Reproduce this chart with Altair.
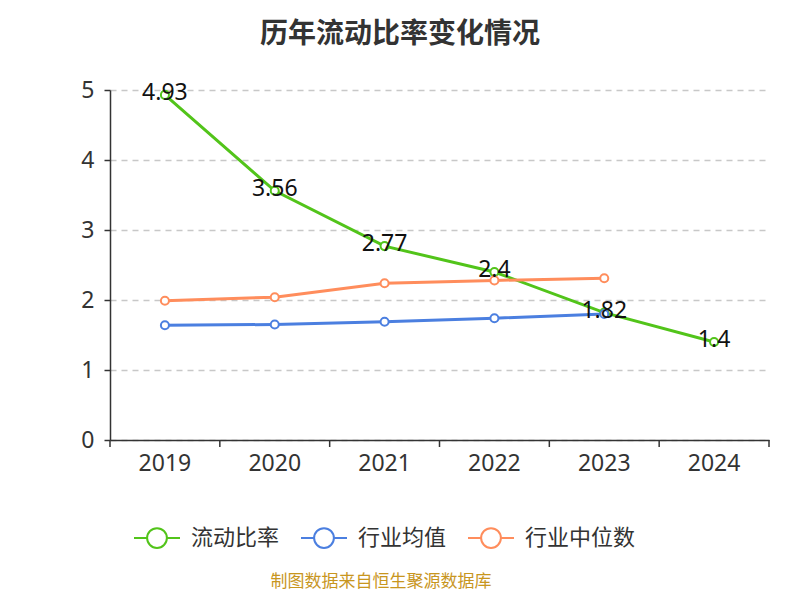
import altair as alt
import pandas as pd

years = ["2019", "2020", "2021", "2022", "2023", "2024"]
ratio = [4.93, 3.56, 2.77, 2.4, 1.82, 1.4]
ind_mean = [1.64, 1.65, 1.69, 1.74, 1.80]
ind_median = [1.99, 2.04, 2.24, 2.28, 2.31]
series = ["流动比率", "行业均值", "行业中位数"]
colors = ["#52c41a", "#4b7fe0", "#ff8d5c"]
title_text = "历年流动比率变化情况"
footer_text = "制图数据来自恒生聚源数据库"

rows = []
for name, vals in zip(series, [ratio, ind_mean, ind_median]):
    for y, v in zip(years, vals):
        rows.append({"year": y, "value": v, "series": name})
df = pd.DataFrame(rows)
df_ratio = df[df.series == "流动比率"]
df_years = pd.DataFrame({"year": years})

W, H = 659, 350
FONT = "Noto Sans CJK SC"
NUMFONT = "Noto Sans"

xs = alt.Scale(domain=years, paddingInner=0, paddingOuter=0)
ys = alt.Scale(domain=[0, 5], nice=False)
cs = alt.Scale(domain=series, range=colors)

sym = "M-1,0L-0.43,0M0.43,0L1,0M0.43,0A0.43,0.43,0,1,1,-0.43,0A0.43,0.43,0,1,1,0.43,0Z"

x_enc = alt.X("year:N", scale=xs, title=None,
              axis=alt.Axis(labelAngle=0, ticks=False, domain=True, domainColor="#333",
                            domainWidth=1.5, labelFontSize=23, labelColor="#333",
                            labelPadding=12, labelFont=NUMFONT, grid=False))
y_enc = alt.Y("value:Q", scale=ys, title=None,
              axis=alt.Axis(values=[0, 1, 2, 3, 4, 5], format="d", grid=True, gridDash=[6, 5],
                            gridColor="#c8c8c8", gridWidth=1.3, domain=True, domainColor="#333",
                            domainWidth=1.5, tickColor="#333", tickSize=6, tickWidth=1.5,
                            labelFontSize=23, labelColor="#333", labelPadding=10,
                            labelFont=NUMFONT))

lines = alt.Chart(df).mark_line(strokeWidth=3).encode(
    x=x_enc, y=y_enc,
    color=alt.Color("series:N", scale=cs, sort=series, title=None,
                    legend=alt.Legend(orient="none", legendX=23, legendY=424,
                                      direction="horizontal", symbolType=sym,
                                      symbolSize=2116, symbolStrokeWidth=2,
                                      symbolFillColor="white", labelFontSize=22,
                                      labelFont=FONT, labelColor="#333", labelOffset=10,
                                      columnPadding=17, padding=0)),
)
points = alt.Chart(df).mark_point(filled=False, fill="white", fillOpacity=1, size=65,
                                  strokeWidth=2, opacity=1).encode(
    x=alt.X("year:N", scale=xs), y=alt.Y("value:Q", scale=ys),
    color=alt.Color("series:N", scale=cs, sort=series, legend=None),
)
labels = alt.Chart(df_ratio).mark_text(fontSize=23, font=NUMFONT, color="#111",
                                       baseline="middle", dy=-2).encode(
    x=alt.X("year:N", scale=xs), y=alt.Y("value:Q", scale=ys),
    text=alt.Text("value:Q"),
)
xticks = alt.Chart(df_years).mark_rule(color="#333", strokeWidth=1.5).encode(
    x=alt.X("year:N", scale=xs, bandPosition=0),
    y=alt.value(H), y2=alt.value(H + 7),
)
lasttick = alt.Chart(df_years.head(1)).mark_rule(color="#333", strokeWidth=1.5).encode(
    x=alt.value(W), y=alt.value(H), y2=alt.value(H + 7),
)
title = alt.Chart(pd.DataFrame({"t": [title_text]})).mark_text(
    fontSize=28, fontWeight="bold", font=FONT, color="#333", baseline="middle").encode(
    text="t:N", x=alt.value(290), y=alt.value(-55))
footer = alt.Chart(pd.DataFrame({"t": [footer_text]})).mark_text(
    fontSize=17, font=FONT, color="#c8961e", baseline="middle").encode(
    text="t:N", x=alt.value(271), y=alt.value(492))

chart = alt.layer(lines, xticks, lasttick, points, labels, title, footer).properties(
    width=W, height=H,
    background="white",
    autosize=alt.AutoSizeParams(type="none"),
    padding={"left": 102, "top": 82, "right": 20, "bottom": 152},
).configure_view(stroke=None, strokeWidth=0)

chart.save("out.html", embed_options={"renderer": "svg", "actions": False})
